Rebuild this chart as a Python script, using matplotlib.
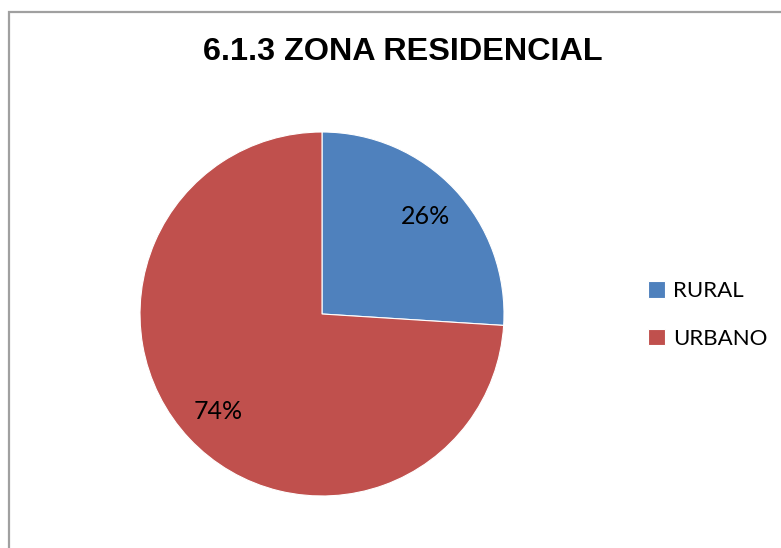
import matplotlib
matplotlib.use("Agg")
from matplotlib import pyplot as plt
from matplotlib.patches import Rectangle

# data
zonas = ['RURAL', 'URBANO']
porcentajes = [26, 74]
colores = ['#4F81BD', '#C0504D']
titulo = '6.1.3 ZONA RESIDENCIAL'

W, H = 781, 548
fig = plt.figure(figsize=(W / 100, H / 100), dpi=100)

# grey chart border (right and bottom edges fall outside the picture)
borde = Rectangle((9 / W, -0.1), 1.0, (H - 12) / H + 0.1, transform=fig.transFigure,
                  fill=False, edgecolor='#a0a0a0', linewidth=1.6)
fig.patches.append(borde)

# pie centred at (322, 314) px, radius 182 px
cx, cy, r = 322, H - 314, 182
ax = fig.add_axes([(cx - r) / W, (cy - r) / H, 2 * r / W, 2 * r / H])
wedges, texts, autotexts = ax.pie(porcentajes, colors=colores, startangle=90, counterclock=False,
                                  autopct='%1.0f%%', pctdistance=0.78,
                                  wedgeprops={'edgecolor': 'white', 'linewidth': 0.8},
                                  textprops={'fontsize': 18, 'family': 'Lato', 'color': 'black'})
ax.set_xlim(-1, 1)
ax.set_ylim(-1, 1)
ax.set_aspect('equal')
ax.axis('off')

fig.text(403 / W, 1 - 52 / H, titulo, ha='center', va='center',
         fontsize=23.3, fontweight='bold', family='Liberation Sans')

fig.legend(wedges, zonas, loc='center left', bbox_to_anchor=(628 / W, 1 - 315 / H),
           frameon=False, prop={'family': 'Lato', 'size': 16},
           handlelength=0.75, handleheight=0.75, handletextpad=0.36, labelspacing=1.25)

plt.savefig('out.png', dpi=100)
